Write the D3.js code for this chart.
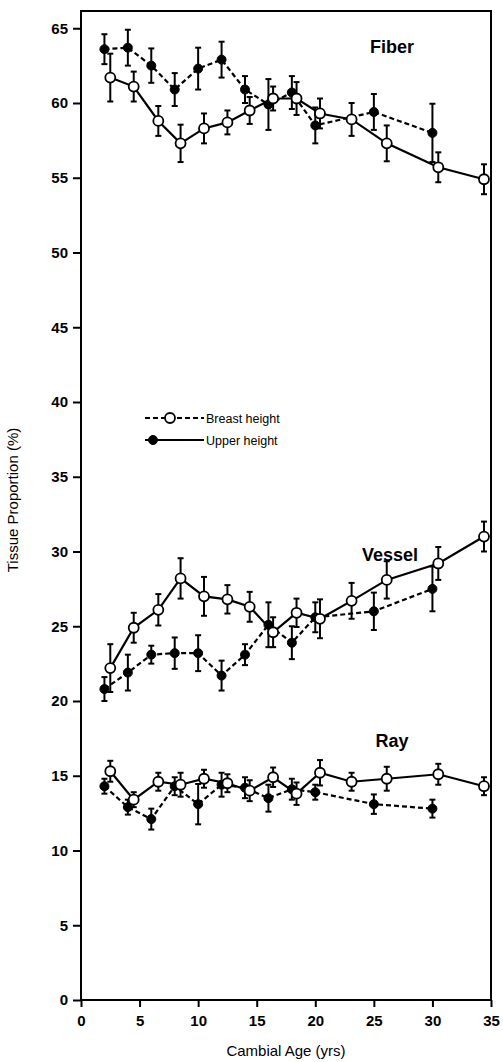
<script src="https://d3js.org/d3.v7.min.js"></script>
<style>
  body { margin: 0; background: #fff; }
  text { font-family: "Liberation Sans", Arial, sans-serif; fill: #000; }
</style>
<div class="vis"></div>
<script>
  // ages (yrs) -- open circles sit a little to the right of filled ones
  var openAge = [2.5, 4.5, 6.6, 8.5, 10.5, 12.5, 14.4, 16.4, 18.4, 20.4, 23.1, 26.1, 30.5, 34.4];
  var fillAge = [2, 4, 6, 8, 10, 12, 14, 16, 18, 20, 25, 30];

  // open circle series (solid line)
  var fiberOpen = [61.7, 61.1, 58.8, 57.3, 58.3, 58.7, 59.5, 60.3, 60.3, 59.3, 58.9, 57.3, 55.7, 54.9];
  var fiberOpenErr = [1.6, 1.0, 1.0, 1.25, 1.0, 0.8, 0.9, 0.8, 1.1, 1.0, 1.1, 1.2, 1.0, 1.0];
  var vesselOpen = [22.2, 24.9, 26.1, 28.2, 27.0, 26.8, 26.3, 24.6, 25.9, 25.5, 26.7, 28.1, 29.2, 31.0];
  var vesselOpenErr = [1.6, 1.0, 1.05, 1.35, 1.3, 0.95, 1.0, 1.0, 0.95, 1.3, 1.2, 1.25, 1.1, 1.0];
  var rayOpen = [15.3, 13.4, 14.6, 14.4, 14.8, 14.5, 14.0, 14.9, 13.8, 15.2, 14.6, 14.8, 15.1, 14.3];
  var rayOpenErr = [0.7, 0.5, 0.6, 0.8, 0.6, 0.6, 0.7, 0.65, 0.75, 0.85, 0.6, 0.8, 0.7, 0.6];

  // filled circle series (dashed line)
  var fiberFill = [63.6, 63.7, 62.5, 60.9, 62.3, 62.9, 60.9, 59.9, 60.7, 58.5, 59.4, 58.0];
  var fiberFillErr = [1.0, 1.2, 1.15, 1.1, 1.4, 1.2, 0.9, 1.7, 1.1, 1.2, 1.2, 1.95];
  var vesselFill = [20.8, 21.9, 23.1, 23.2, 23.2, 21.7, 23.1, 25.1, 23.9, 25.6, 26.0, 27.5];
  var vesselFillErr = [0.8, 1.2, 0.6, 1.05, 1.2, 1.0, 0.7, 1.5, 1.1, 1.0, 1.25, 1.5];
  var rayFill = [14.3, 12.9, 12.1, 14.3, 13.1, 14.4, 14.2, 13.5, 14.1, 13.9, 13.1, 12.8];
  var rayFillErr = [0.5, 0.5, 0.7, 0.6, 1.35, 0.8, 0.7, 0.9, 0.7, 0.5, 0.65, 0.6];

  var xTicks = [0, 5, 10, 15, 20, 25, 30, 35];
  var yTicks = [0, 5, 10, 15, 20, 25, 30, 35, 40, 45, 50, 55, 60, 65];
  var tissueLabels = ["Fiber", "Vessel", "Ray"];
  var legendLabels = ["Breast height", "Upper height"];

  var W = 503, H = 1062;
  var padL = 81, padR = 491, padT = 11, padB = 1000;

  var svg = d3.select('.vis').append('svg')
    .attr('width', W).attr('height', H);

  var x = d3.scaleLinear().domain([0, 35]).range([padL, padR]);
  var y = d3.scaleLinear().domain([0, 65]).range([padB, padB - 65 * 14.95]);

  // frame
  svg.append('rect')
    .attr('x', padL).attr('y', padT)
    .attr('width', padR - padL).attr('height', padB - padT)
    .attr('fill', 'none').attr('stroke', '#000').attr('stroke-width', 2);

  // axes
  var xAxis = svg.append('g')
    .attr('transform', 'translate(0,' + padB + ')')
    .call(d3.axisBottom(x).tickValues(xTicks).tickSize(7).tickPadding(8));
  var yAxis = svg.append('g')
    .attr('transform', 'translate(' + padL + ',0)')
    .call(d3.axisLeft(y).tickValues(yTicks).tickSize(8).tickPadding(5));
  [xAxis, yAxis].forEach(function (g) {
    g.select('.domain').remove();
    g.selectAll('line').attr('stroke', '#000').attr('stroke-width', 2);
    g.selectAll('text')
      .style('font-family', '"Liberation Sans", Arial, sans-serif')
      .style('font-size', '15px').style('font-weight', 'bold');
  });

  svg.append('text')
    .attr('x', (padL + padR) / 2).attr('y', 1056)
    .attr('text-anchor', 'middle')
    .style('font-size', '15px')
    .text('Cambial Age (yrs)');

  svg.append('text')
    .attr('transform', 'translate(18,500) rotate(-90)')
    .attr('text-anchor', 'middle')
    .style('font-size', '15px')
    .text('Tissue Proportion (%)');

  var line = d3.line();

  function drawSeries(ages, vals, errs, open) {
    var pts = ages.map(function (a, i) { return [x(a), y(vals[i])]; });
    svg.append('path')
      .attr('d', line(pts))
      .attr('fill', 'none').attr('stroke', '#000').attr('stroke-width', 2.2)
      .attr('stroke-dasharray', open ? null : '5,3');
    var g = svg.append('g');
    ages.forEach(function (a, i) {
      var cx = x(a), y1 = y(vals[i] + errs[i]), y2 = y(vals[i] - errs[i]);
      g.append('line').attr('x1', cx).attr('x2', cx).attr('y1', y1).attr('y2', y2)
        .attr('stroke', '#000').attr('stroke-width', 2);
      [y1, y2].forEach(function (yy) {
        g.append('line').attr('x1', cx - 3).attr('x2', cx + 3).attr('y1', yy).attr('y2', yy)
          .attr('stroke', '#000').attr('stroke-width', 2);
      });
    });
    g.selectAll('circle.pt').data(pts).enter().append('circle')
      .attr('cx', function (d) { return d[0]; })
      .attr('cy', function (d) { return d[1]; })
      .attr('r', open ? 5 : 4.5)
      .attr('fill', open ? '#fff' : '#000')
      .attr('stroke', '#000').attr('stroke-width', open ? 1.8 : 1);
  }

  drawSeries(fillAge, fiberFill, fiberFillErr, false);
  drawSeries(fillAge, vesselFill, vesselFillErr, false);
  drawSeries(fillAge, rayFill, rayFillErr, false);
  drawSeries(openAge, fiberOpen, fiberOpenErr, true);
  drawSeries(openAge, vesselOpen, vesselOpenErr, true);
  drawSeries(openAge, rayOpen, rayOpenErr, true);

  // tissue labels
  var labelPos = [[392, 53], [390, 561], [392, 747]];
  tissueLabels.forEach(function (t, i) {
    svg.append('text')
      .attr('x', labelPos[i][0]).attr('y', labelPos[i][1])
      .attr('text-anchor', 'middle')
      .style('font-size', '18px').style('font-weight', 'bold')
      .text(t);
  });

  // legend
  var lg = svg.append('g');
  legendLabels.forEach(function (t, i) {
    var ly = 418 + i * 22;
    lg.append('line').attr('x1', 145).attr('x2', 204).attr('y1', ly).attr('y2', ly)
      .attr('stroke', '#000').attr('stroke-width', 2)
      .attr('stroke-dasharray', i === 0 ? '5,3' : null);
    lg.append('circle').attr('cx', i === 0 ? 170 : 153).attr('cy', ly)
      .attr('r', i === 0 ? 5 : 4.5)
      .attr('fill', i === 0 ? '#fff' : '#000')
      .attr('stroke', '#000').attr('stroke-width', i === 0 ? 1.8 : 1);
    lg.append('text').attr('x', 206).attr('y', ly + 4.5)
      .style('font-size', '12.5px')
      .text(t);
  });
</script>
